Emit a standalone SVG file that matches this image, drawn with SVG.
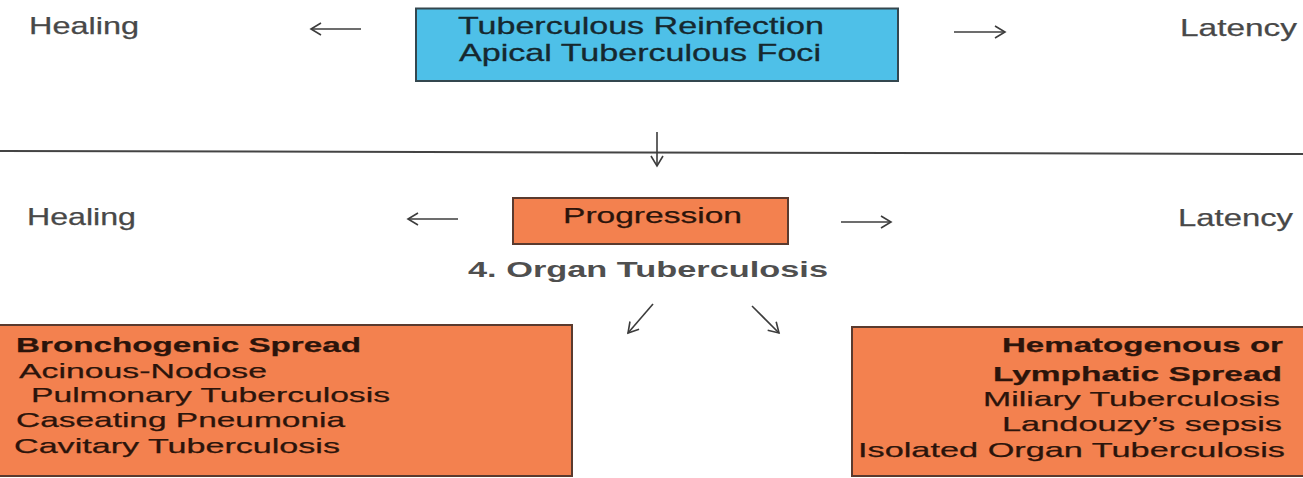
<svg xmlns="http://www.w3.org/2000/svg" width="1303" height="478" viewBox="0 0 1303 478">
<style>
  text { font-family: "Liberation Sans", Arial, Helvetica, sans-serif; }
  .side { font-size: 24px; fill: #484848; stroke: #484848; stroke-width: 0.25; }
  .blue { fill: #4ec0e8; stroke: #34474f; stroke-width: 2; }
  .orange { fill: #f3814f; stroke: #5a3a2e; stroke-width: 2; }
  .tb { font-size: 24px; fill: #16282f; stroke: #16282f; stroke-width: 0.3; }
  .to { font-size: 21px; fill: #2b140b; stroke: #2b140b; stroke-width: 0.25; }
  .bold { font-weight: bold; }
  .head { font-size: 22px; font-weight: bold; fill: #4f4f4f; }
  .conn { stroke: #3c3c3c; stroke-width: 1.6; fill: none; }
</style>
<defs>
  <marker id="ah" markerUnits="userSpaceOnUse" markerWidth="14" markerHeight="16" refX="11" refY="7" orient="auto">
    <path d="M1,1 L11,7 L1,13" fill="none" stroke="#3c3c3c" stroke-width="1.6"/>
  </marker>
</defs>

<rect width="1303" height="478" fill="#ffffff"/>

<line x1="0" y1="151" x2="1303" y2="154" stroke="#444444" stroke-width="2"/>

<g id="healing-top"><text class="side" x="29" y="34" textLength="110" lengthAdjust="spacingAndGlyphs">Healing</text></g>
<g id="latency-top"><text class="side" x="1180" y="36" textLength="117" lengthAdjust="spacingAndGlyphs">Latency</text></g>

<g id="reinfection">
  <rect class="blue" x="416" y="8.5" width="482" height="72.5"/>
  <text class="tb" x="458" y="34" textLength="366" lengthAdjust="spacingAndGlyphs">Tuberculous Reinfection</text>
  <text class="tb" x="459" y="61" textLength="362" lengthAdjust="spacingAndGlyphs">Apical Tuberculous Foci</text>
</g>

<g id="healing-mid"><text class="side" x="27" y="225" textLength="109" lengthAdjust="spacingAndGlyphs">Healing</text></g>
<g id="latency-mid"><text class="side" x="1178" y="226" textLength="115" lengthAdjust="spacingAndGlyphs">Latency</text></g>

<g id="progression">
  <rect class="orange" x="513" y="198" width="275" height="46"/>
  <text class="to" x="563" y="223" textLength="179" lengthAdjust="spacingAndGlyphs" style="font-size:22px">Progression</text>
</g>

<g id="organ-tb"><text class="head" x="468" y="277" textLength="360" lengthAdjust="spacingAndGlyphs">4.  Organ Tuberculosis</text></g>

<g id="bronchogenic">
  <rect class="orange" x="-2" y="325" width="574" height="151"/>
  <text class="to bold" x="16" y="352" textLength="345" lengthAdjust="spacingAndGlyphs">Bronchogenic Spread</text>
  <text class="to" x="19" y="378" textLength="248" lengthAdjust="spacingAndGlyphs">Acinous-Nodose</text>
  <text class="to" x="31" y="402" textLength="359" lengthAdjust="spacingAndGlyphs">Pulmonary Tuberculosis</text>
  <text class="to" x="16" y="427" textLength="329" lengthAdjust="spacingAndGlyphs">Caseating Pneumonia</text>
  <text class="to" x="14" y="453" textLength="326" lengthAdjust="spacingAndGlyphs">Cavitary Tuberculosis</text>
</g>

<g id="hematogenous">
  <rect class="orange" x="852" y="327" width="460" height="149"/>
  <text class="to bold" x="1283" y="352" text-anchor="end" textLength="281" lengthAdjust="spacingAndGlyphs">Hematogenous or</text>
  <text class="to bold" x="1282" y="381" text-anchor="end" textLength="289" lengthAdjust="spacingAndGlyphs">Lymphatic Spread</text>
  <text class="to" x="1280" y="406" text-anchor="end" textLength="297" lengthAdjust="spacingAndGlyphs">Miliary Tuberculosis</text>
  <text class="to" x="1282" y="431" text-anchor="end" textLength="280" lengthAdjust="spacingAndGlyphs">Landouzy’s sepsis</text>
  <text class="to" x="1285" y="457" text-anchor="end" textLength="427" lengthAdjust="spacingAndGlyphs">Isolated Organ Tuberculosis</text>
</g>

<g id="connectors">
  <line class="conn" x1="361" y1="29" x2="311" y2="29" marker-end="url(#ah)"/>
  <line class="conn" x1="954" y1="32" x2="1005" y2="32" marker-end="url(#ah)"/>
  <line class="conn" x1="657" y1="132" x2="657" y2="166" marker-end="url(#ah)"/>
  <line class="conn" x1="458" y1="219" x2="408" y2="219" marker-end="url(#ah)"/>
  <line class="conn" x1="841" y1="222" x2="891" y2="222" marker-end="url(#ah)"/>
  <line class="conn" x1="653" y1="304" x2="628" y2="333" marker-end="url(#ah)"/>
  <line class="conn" x1="752" y1="306" x2="779" y2="333" marker-end="url(#ah)"/>
</g>
</svg>
